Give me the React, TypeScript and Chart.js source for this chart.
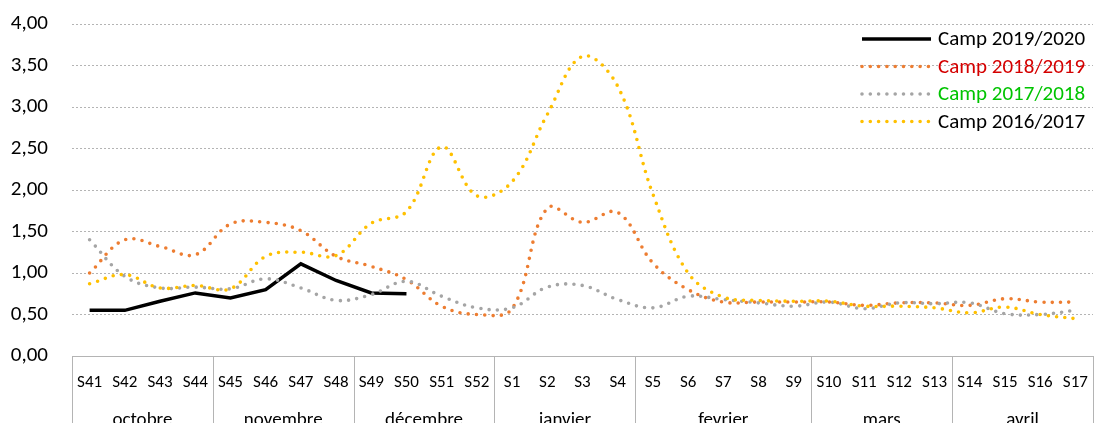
import React, { useEffect, useRef } from "react";
import { Chart, registerables } from "chart.js";

Chart.register(...registerables);

const weeks = [
  "S41", "S42", "S43", "S44", "S45", "S46", "S47", "S48", "S49", "S50", "S51", "S52",
  "S1", "S2", "S3", "S4", "S5", "S6", "S7", "S8", "S9", "S10", "S11", "S12", "S13",
  "S14", "S15", "S16", "S17",
];
const months = ["octobre", "novembre", "décembre", "janvier", "fevrier", "mars", "avril"];
const monthWeekCounts = [4, 4, 4, 4, 5, 4, 4];

const camp1920 = [0.55, 0.55, 0.66, 0.76, 0.7, 0.8, 1.11, 0.91, 0.76, 0.75,
  null, null, null, null, null, null, null, null, null, null, null, null, null, null, null, null, null, null, null];
const camp1819 = [1.0, 1.4, 1.32, 1.22, 1.59, 1.61, 1.51, 1.2, 1.08, 0.92, 0.6, 0.5,
  0.57, 1.78, 1.61, 1.73, 1.12, 0.8, 0.65, 0.65, 0.65, 0.65, 0.61, 0.64, 0.64, 0.61, 0.69, 0.65, 0.65];
const camp1718 = [1.4, 0.96, 0.82, 0.83, 0.81, 0.93, 0.82, 0.67, 0.74, 0.9, 0.72, 0.58,
  0.58, 0.83, 0.85, 0.68, 0.58, 0.72, 0.68, 0.64, 0.6, 0.65, 0.57, 0.64, 0.63, 0.64, 0.51, 0.5, 0.55];
const camp1617 = [0.87, 0.98, 0.82, 0.85, 0.81, 1.2, 1.25, 1.21, 1.6, 1.74, 2.52, 1.93,
  2.1, 2.91, 3.61, 3.25, 1.95, 1.0, 0.71, 0.67, 0.66, 0.66, 0.6, 0.6, 0.58, 0.52, 0.59, 0.5, 0.45];

const seriesNames = ["Camp 2019/2020", "Camp 2018/2019", "Camp 2017/2018", "Camp 2016/2017"];
const legendTextColors = ["#000000", "#d40000", "#00c400", "#000000"];

const FONT = "Carlito, Lato, 'Noto Sans', sans-serif";
const GRID = "#b4b4b4";

const boxPlugin = {
  id: "monthBoxes",
  afterDraw(chart: any) {
    const ctx = chart.ctx;
    const xs = chart.scales.x;
    const area = chart.chartArea;
    const bottom = chart.height;
    ctx.save();
    ctx.strokeStyle = GRID;
    ctx.lineWidth = 1;
    let start = 0;
    const bounds = [0];
    monthWeekCounts.forEach((c) => {
      start += c;
      bounds.push(start);
    });
    bounds.forEach((b) => {
      const x = Math.round(xs.getPixelForValue(b - 0.5)) + 0.5;
      ctx.beginPath();
      ctx.moveTo(x, area.bottom);
      ctx.lineTo(x, bottom);
      ctx.stroke();
    });
    ctx.fillStyle = "#000";
    ctx.font = `19px ${FONT}`;
    ctx.textAlign = "center";
    ctx.textBaseline = "alphabetic";
    months.forEach((m, i) => {
      const c = (bounds[i] + bounds[i + 1] - 1) / 2;
      ctx.fillText(m, xs.getPixelForValue(c), 425);
    });
    ctx.restore();
  },
};

const legendPlugin = {
  id: "insideLegend",
  afterDraw(chart: any) {
    const ctx = chart.ctx;
    const x0 = 862;
    const x1 = 931;
    const tx = 938;
    const rows = [39, 66.5, 94, 121.5];
    ctx.save();
    chart.data.datasets.forEach((ds: any, i: number) => {
      const y = rows[i];
      ctx.beginPath();
      ctx.strokeStyle = ds.borderColor;
      ctx.lineWidth = ds.borderWidth;
      ctx.lineCap = ds.borderCapStyle || "butt";
      ctx.setLineDash(ds.borderDash || []);
      ctx.moveTo(x0, y);
      ctx.lineTo(x1, y);
      ctx.stroke();
      ctx.setLineDash([]);
      ctx.fillStyle = legendTextColors[i];
      ctx.font = `21px ${FONT}`;
      ctx.textAlign = "left";
      ctx.textBaseline = "middle";
      ctx.fillText(ds.label, tx, y + 1);
    });
    ctx.restore();
  },
};

export default function App() {
  const ref = useRef<HTMLCanvasElement | null>(null);
  useEffect(() => {
    document.body.style.margin = "0";
    if (!ref.current) return;
    const dotted = (color: string, data: (number | null)[], label: string, order: number) => ({
      label,
      data,
      borderColor: color,
      backgroundColor: color,
      borderWidth: 3.6,
      borderDash: [0, 8.3],
      borderCapStyle: "round" as const,
      pointRadius: 0,
      tension: 0.38,
      fill: false,
      order,
    });
    const chart = new Chart(ref.current, {
      type: "line",
      data: {
        labels: weeks,
        datasets: [
          {
            label: seriesNames[0],
            data: camp1920,
            borderColor: "#000000",
            backgroundColor: "#000000",
            borderWidth: 3.5,
            pointRadius: 0,
            tension: 0,
            fill: false,
            order: 3,
            spanGaps: false,
          },
          dotted("#ed7d31", camp1819, seriesNames[1], 2),
          dotted("#a5a5a5", camp1718, seriesNames[2], 1),
          dotted("#ffc000", camp1617, seriesNames[3], 0),
        ],
      },
      options: {
        responsive: false,
        animation: false,
        layout: { padding: { top: 24, right: 1, left: 0, bottom: 0 } },
        plugins: {
          legend: { display: false },
          tooltip: { enabled: false },
        },
        scales: {
          x: {
            type: "category",
            offset: true,
            grid: { display: false },
            border: { display: true, color: GRID, width: 1 },
            ticks: {
              autoSkip: false,
              maxRotation: 0,
              padding: 9,
              color: "#000",
              font: { family: FONT, size: 17 },
            },
            afterFit(scale: any) {
              scale.height = 67;
              scale.paddingLeft = 0;
              scale.paddingRight = 0;
            },
          },
          y: {
            min: 0,
            max: 4,
            grid: {
              drawTicks: false,
              color: (c: any) => (c.tick && c.tick.value === 0 ? "rgba(0,0,0,0)" : GRID),
              lineWidth: 1,
            },
            border: { display: false, dash: [2, 2] },
            ticks: {
              stepSize: 0.5,
              padding: 24,
              color: "#000",
              font: { family: FONT, size: 21 },
              callback: (v: any) => Number(v).toFixed(2).replace(".", ","),
            },
            afterFit(scale: any) {
              scale.width = 72;
              scale.paddingTop = 0;
              scale.paddingBottom = 0;
            },
          },
        },
      },
      plugins: [boxPlugin, legendPlugin],
    });
    return () => chart.destroy();
  }, []);
  return (
    <div style={{ width: 1094, height: 423, position: "relative", overflow: "hidden", background: "#fff" }}>
      <canvas ref={ref} width={1094} height={423} style={{ display: "block" }} />
    </div>
  );
}
